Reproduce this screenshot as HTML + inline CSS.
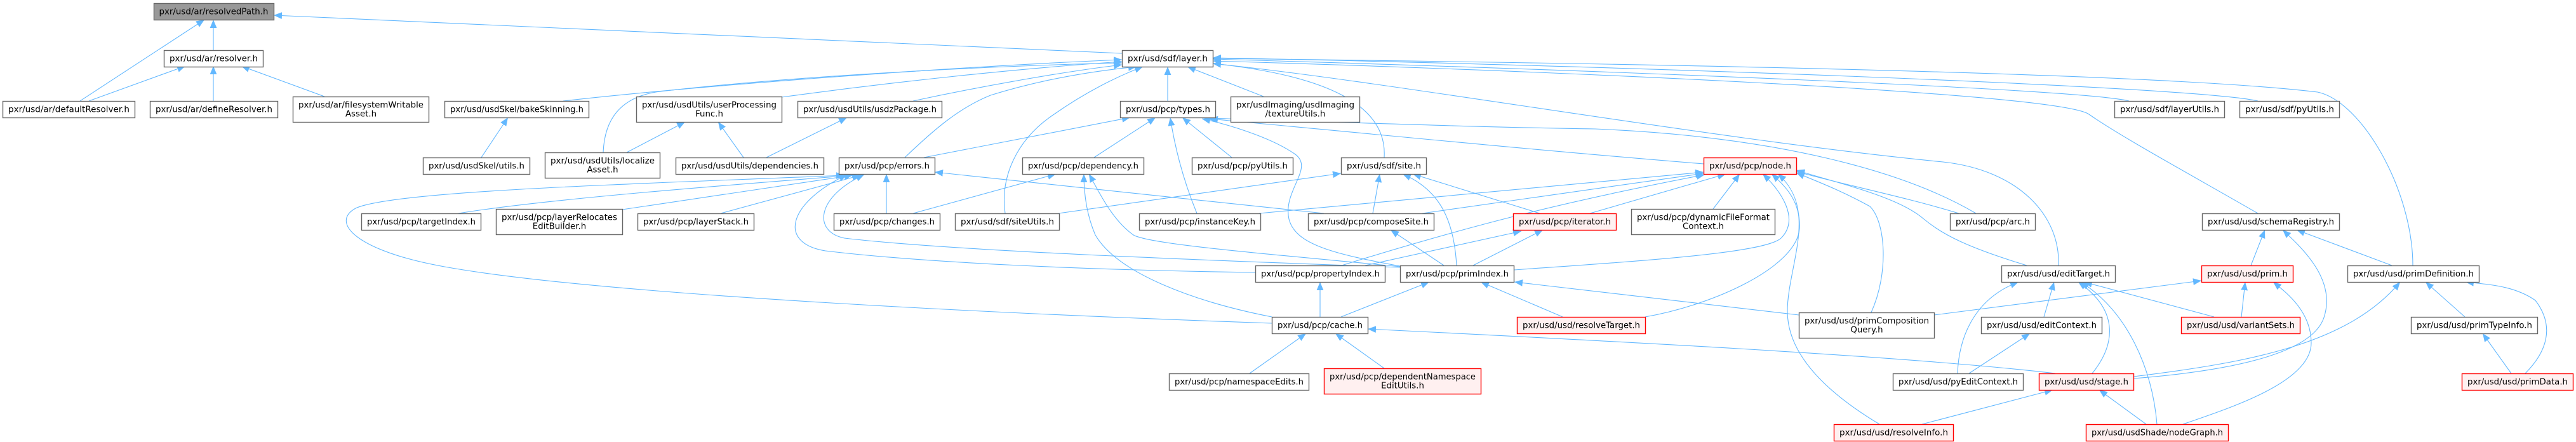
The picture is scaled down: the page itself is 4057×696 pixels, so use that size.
<!DOCTYPE html>
<html>
<head>
<meta charset="utf-8">
<style>
html,body{margin:0;padding:0;background:#fff;}
svg{display:block;}
.e{fill:none;stroke:#63b8ff;stroke-width:1.1;marker-end:url(#a);}
.n{fill:#fff;stroke:#666;stroke-width:1.4;}
.r{fill:#fff0f0;stroke:#f00;stroke-width:1.4;}
.g{fill:#999;stroke:#666;stroke-width:1.4;}
text{font-family:"DejaVu Sans","Liberation Sans",sans-serif;font-size:13.33px;text-anchor:middle;fill:#000;}
</style>
</head>
<body>
<svg width="4057" height="696" viewBox="0 0 4057 696" xmlns="http://www.w3.org/2000/svg">
<defs>
<marker id="a" markerUnits="userSpaceOnUse" markerWidth="13" markerHeight="11" refX="12" refY="5" orient="auto" viewBox="0 0 12 10">
<path d="M0,0L12,5L0,10z" fill="#63b8ff"/>
</marker>
</defs>

<!-- edges -->
<g>
<path class="e" d="M336,79 L336,31"/>
<path class="e" d="M126,159 L322,31"/>
<path class="e" d="M1767,84 L431,24"/>
<path class="e" d="M140,159 L292,104"/>
<path class="e" d="M336,159 L336,104"/>
<path class="e" d="M511,152 L380,104"/>
<path class="e" d="M887,159 C1100,135 1500,105 1767,94"/>
<path class="e" d="M1231,153 C1400,130 1600,108 1767,97"/>
<path class="e" d="M950,240 C952,190 975,152 1040,144 C1250,120 1550,104 1767,99"/>
<path class="e" d="M1438,159 C1550,135 1680,112 1767,102"/>
<path class="e" d="M1425,248 C1470,205 1510,170 1560,150 C1640,125 1720,112 1790,105"/>
<path class="e" d="M1583,336 C1575,280 1600,220 1660,180 C1710,145 1760,120 1800,105"/>
<path class="e" d="M1839,159 L1839,105"/>
<path class="e" d="M1990,152 L1870,105"/>
<path class="e" d="M2180,248 C2185,170 2100,120 1910,100"/>
<path class="e" d="M3353,159 C3280,140 2500,110 1910,93"/>
<path class="e" d="M3556,159 C3450,135 2500,102 1910,91"/>
<path class="e" d="M3556,336 C3450,275 3340,215 3290,180 C3240,145 2400,110 1910,96"/>
<path class="e" d="M3800,418 C3800,300 3720,160 3650,145 C3400,115 2600,100 1910,92"/>
<path class="e" d="M3242,418 C3245,340 3180,268 3060,255 C2700,220 2200,130 1910,100"/>

<path class="e" d="M1455,248 L1780,185"/>
<path class="e" d="M1723,248 L1820,185"/>
<path class="e" d="M1885,336 C1862,280 1850,230 1843,185"/>
<path class="e" d="M1940,248 L1862,185"/>
<path class="e" d="M3112,336 C3000,270 2800,215 2512,203 C2300,200 2050,190 1900,186"/>
<path class="e" d="M2683,258 C2400,235 2100,205 1905,187"/>
<path class="e" d="M2210,420 C2100,400 2040,385 2030,345 C2020,300 2070,265 2040,243 C2000,215 1930,195 1893,187"/>

<path class="e" d="M722,336 C850,315 1100,295 1343,276"/>
<path class="e" d="M980,330 L1343,276"/>
<path class="e" d="M1135,336 L1355,276"/>
<path class="e" d="M1396,336 L1396,274"/>
<path class="e" d="M2085,336 L1472,271"/>
<path class="e" d="M2003,509 C1600,495 950,465 700,420 C560,395 520,350 560,328 C620,300 1000,290 1330,276"/>
<path class="e" d="M2206,421 C1900,410 1500,395 1330,375 C1280,365 1285,310 1361,275"/>
<path class="e" d="M1977,429 C1700,425 1450,413 1300,395 C1225,383 1240,320 1334,275"/>

<path class="e" d="M1438,336 L1663,274"/>
<path class="e" d="M2003,499 C1880,475 1760,430 1725,370 C1710,335 1707,300 1707,274"/>
<path class="e" d="M2206,420 C2000,400 1810,385 1785,370 C1750,345 1730,300 1715,274"/>

<path class="e" d="M1667,336 L2112,273"/>
<path class="e" d="M2162,336 L2173,274"/>
<path class="e" d="M2294,418 C2290,350 2270,300 2209,274"/>
<path class="e" d="M2425,336 L2225,274"/>

<path class="e" d="M1983,336 L2683,271"/>
<path class="e" d="M2240,336 L2683,273"/>
<path class="e" d="M2113,418 C2300,360 2450,320 2685,275"/>
<path class="e" d="M2384,425 C2600,410 2780,398 2805,375 C2835,345 2805,300 2776,274"/>
<path class="e" d="M2504,336 L2718,274"/>
<path class="e" d="M2698,329 L2740,274"/>
<path class="e" d="M2591,499 C2700,480 2830,420 2834,360 C2836,320 2815,295 2790,274"/>
<path class="e" d="M2960,668 C2880,620 2815,560 2815,490 C2815,420 2865,330 2800,274"/>
<path class="e" d="M2947,492 C2975,430 2970,350 2945,325 C2900,300 2860,285 2829,272"/>
<path class="e" d="M3085,336 C3000,310 2900,290 2829,270"/>
<path class="e" d="M3192,418 C3100,390 3060,370 3030,345 C2990,310 2900,290 2829,268"/>

<path class="e" d="M2320,418 L2430,362"/>
<path class="e" d="M2150,418 L2396,364"/>
<path class="e" d="M2274,418 L2190,362"/>
<path class="e" d="M2079,499 L2079,444"/>
<path class="e" d="M2112,499 L2251,444"/>
<path class="e" d="M2461,499 L2332,444"/>
<path class="e" d="M2833,496 L2385,444"/>

<path class="e" d="M1968,588 L2057,525"/>
<path class="e" d="M2180,580 L2103,525"/>
<path class="e" d="M3237,588 C3000,560 2500,535 2154,518"/>

<path class="e" d="M3083,588 C3085,530 3110,470 3179,444"/>
<path class="e" d="M3219,499 L3235,444"/>
<path class="e" d="M3295,588 C3330,545 3340,490 3273,444"/>
<path class="e" d="M3397,668 C3390,580 3350,490 3277,444"/>
<path class="e" d="M3487,499 L3282,444"/>

<path class="e" d="M3046,496 L3467,442"/>
<path class="e" d="M3530,499 L3536,444"/>
<path class="e" d="M3438,668 C3520,640 3640,600 3640,540 C3640,490 3600,460 3580,444"/>
<path class="e" d="M3101,588 L3197,525"/>

<path class="e" d="M3545,418 L3567,362"/>
<path class="e" d="M3767,418 L3617,362"/>
<path class="e" d="M3360,596 C3500,585 3640,560 3660,500 C3680,440 3625,390 3595,362"/>

<path class="e" d="M3360,593 C3550,570 3700,540 3780,444"/>
<path class="e" d="M3882,499 L3820,444"/>
<path class="e" d="M3977,588 C4010,555 4025,515 3993,473 C3960,450 3920,448 3883,444"/>
<path class="e" d="M3955,588 L3910,525"/>

<path class="e" d="M3027,668 L3233,614"/>
<path class="e" d="M3380,668 L3306,614"/>

<path class="e" d="M758,248 L800,185"/>
<path class="e" d="M987,240 L1079,192"/>
<path class="e" d="M1171,248 L1131,192"/>
<path class="e" d="M1207,248 L1334,185"/>
</g>

<!-- nodes -->
<g>
<rect class="g" x="242.5" y="5.5" width="189" height="26"/>
<text x="336.5" y="22.5" textLength="172" lengthAdjust="spacingAndGlyphs">pxr/usd/ar/resolvedPath.h</text>

<rect class="n" x="258.5" y="79.5" width="156" height="26"/>
<text x="336.5" y="96.5" textLength="139" lengthAdjust="spacingAndGlyphs">pxr/usd/ar/resolver.h</text>

<rect class="n" x="1767.5" y="79.5" width="143" height="26"/>
<text x="1839" y="96.5" textLength="126" lengthAdjust="spacingAndGlyphs">pxr/usd/sdf/layer.h</text>

<!-- row 2 -->
<rect class="n" x="4.5" y="159.5" width="208" height="26"/>
<text x="108.5" y="176.5" textLength="191" lengthAdjust="spacingAndGlyphs">pxr/usd/ar/defaultResolver.h</text>

<rect class="n" x="236.5" y="159.5" width="201" height="26"/>
<text x="337" y="176.5" textLength="184" lengthAdjust="spacingAndGlyphs">pxr/usd/ar/defineResolver.h</text>

<rect class="n" x="461.5" y="152.5" width="214" height="40"/>
<text x="568.5" y="169.5" textLength="197" lengthAdjust="spacingAndGlyphs">pxr/usd/ar/filesystemWritable</text>
<text x="568.5" y="183.5">Asset.h</text>

<rect class="n" x="700.5" y="159.5" width="227" height="26"/>
<text x="814" y="176.5" textLength="210" lengthAdjust="spacingAndGlyphs">pxr/usd/usdSkel/bakeSkinning.h</text>

<rect class="n" x="1002.5" y="152.5" width="229" height="40"/>
<text x="1117" y="169.5" textLength="212" lengthAdjust="spacingAndGlyphs">pxr/usd/usdUtils/userProcessing</text>
<text x="1117" y="183.5">Func.h</text>

<rect class="n" x="1256.5" y="159.5" width="227" height="26"/>
<text x="1370" y="176.5" textLength="210" lengthAdjust="spacingAndGlyphs">pxr/usd/usdUtils/usdzPackage.h</text>

<rect class="n" x="1764.5" y="159.5" width="150" height="26"/>
<text x="1839.5" y="176.5" textLength="133" lengthAdjust="spacingAndGlyphs">pxr/usd/pcp/types.h</text>

<rect class="n" x="1938.5" y="152.5" width="203" height="40"/>
<text x="2040" y="169.5" textLength="186" lengthAdjust="spacingAndGlyphs">pxr/usdImaging/usdImaging</text>
<text x="2040" y="183.5">/textureUtils.h</text>

<rect class="n" x="3330.5" y="159.5" width="173" height="26"/>
<text x="3417" y="176.5" textLength="156" lengthAdjust="spacingAndGlyphs">pxr/usd/sdf/layerUtils.h</text>

<rect class="n" x="3527.5" y="159.5" width="157" height="26"/>
<text x="3606" y="176.5" textLength="140" lengthAdjust="spacingAndGlyphs">pxr/usd/sdf/pyUtils.h</text>

<!-- row 3 -->
<rect class="n" x="666.5" y="248.5" width="168" height="26"/>
<text x="750.5" y="265.5" textLength="151" lengthAdjust="spacingAndGlyphs">pxr/usd/usdSkel/utils.h</text>

<rect class="n" x="858.5" y="240.5" width="181" height="40"/>
<text x="949" y="257.5" textLength="164" lengthAdjust="spacingAndGlyphs">pxr/usd/usdUtils/localize</text>
<text x="949" y="271.5">Asset.h</text>

<rect class="n" x="1064.5" y="248.5" width="233" height="26"/>
<text x="1181" y="265.5" textLength="216" lengthAdjust="spacingAndGlyphs">pxr/usd/usdUtils/dependencies.h</text>

<rect class="n" x="1321.5" y="248.5" width="151" height="26"/>
<text x="1397" y="265.5" textLength="134" lengthAdjust="spacingAndGlyphs">pxr/usd/pcp/errors.h</text>

<rect class="n" x="1610.5" y="248.5" width="191" height="26"/>
<text x="1706" y="265.5" textLength="174" lengthAdjust="spacingAndGlyphs">pxr/usd/pcp/dependency.h</text>

<rect class="n" x="1877.5" y="248.5" width="159" height="26"/>
<text x="1957" y="265.5" textLength="142" lengthAdjust="spacingAndGlyphs">pxr/usd/pcp/pyUtils.h</text>

<rect class="n" x="2112.5" y="248.5" width="134" height="26"/>
<text x="2179.5" y="265.5" textLength="117" lengthAdjust="spacingAndGlyphs">pxr/usd/sdf/site.h</text>

<rect class="r" x="2683.5" y="248.5" width="146" height="26"/>
<text x="2756.5" y="265.5" textLength="129" lengthAdjust="spacingAndGlyphs">pxr/usd/pcp/node.h</text>

<!-- row 4 -->
<rect class="n" x="569.5" y="336.5" width="188" height="26"/>
<text x="663.5" y="353.5" textLength="171" lengthAdjust="spacingAndGlyphs">pxr/usd/pcp/targetIndex.h</text>

<rect class="n" x="781.5" y="329.5" width="199" height="40"/>
<text x="881" y="346.5" textLength="182" lengthAdjust="spacingAndGlyphs">pxr/usd/pcp/layerRelocates</text>
<text x="881" y="360.5">EditBuilder.h</text>

<rect class="n" x="1004.5" y="336.5" width="183" height="26"/>
<text x="1096" y="353.5" textLength="166" lengthAdjust="spacingAndGlyphs">pxr/usd/pcp/layerStack.h</text>

<rect class="n" x="1313.5" y="336.5" width="167" height="26"/>
<text x="1397" y="353.5" textLength="150" lengthAdjust="spacingAndGlyphs">pxr/usd/pcp/changes.h</text>

<rect class="n" x="1504.5" y="336.5" width="164" height="26"/>
<text x="1586.5" y="353.5" textLength="147" lengthAdjust="spacingAndGlyphs">pxr/usd/sdf/siteUtils.h</text>

<rect class="n" x="1794.5" y="336.5" width="191" height="26"/>
<text x="1890" y="353.5" textLength="174" lengthAdjust="spacingAndGlyphs">pxr/usd/pcp/instanceKey.h</text>

<rect class="n" x="2060.5" y="336.5" width="198" height="26"/>
<text x="2159.5" y="353.5" textLength="181" lengthAdjust="spacingAndGlyphs">pxr/usd/pcp/composeSite.h</text>

<rect class="r" x="2383.5" y="336.5" width="162" height="26"/>
<text x="2464.5" y="353.5" textLength="145" lengthAdjust="spacingAndGlyphs">pxr/usd/pcp/iterator.h</text>

<rect class="n" x="2569.5" y="329.5" width="226" height="40"/>
<text x="2682.5" y="346.5" textLength="209" lengthAdjust="spacingAndGlyphs">pxr/usd/pcp/dynamicFileFormat</text>
<text x="2682.5" y="360.5">Context.h</text>

<rect class="n" x="3071.5" y="336.5" width="134" height="26"/>
<text x="3138.5" y="353.5" textLength="117" lengthAdjust="spacingAndGlyphs">pxr/usd/pcp/arc.h</text>

<rect class="n" x="3468.5" y="336.5" width="216" height="26"/>
<text x="3576.5" y="353.5" textLength="199" lengthAdjust="spacingAndGlyphs">pxr/usd/usd/schemaRegistry.h</text>

<!-- row 5 -->
<rect class="n" x="1977.5" y="418.5" width="204" height="26"/>
<text x="2079.5" y="435.5" textLength="187" lengthAdjust="spacingAndGlyphs">pxr/usd/pcp/propertyIndex.h</text>

<rect class="n" x="2205.5" y="418.5" width="179" height="26"/>
<text x="2295" y="435.5" textLength="162" lengthAdjust="spacingAndGlyphs">pxr/usd/pcp/primIndex.h</text>

<rect class="n" x="3152.5" y="418.5" width="179" height="26"/>
<text x="3242" y="435.5" textLength="162" lengthAdjust="spacingAndGlyphs">pxr/usd/usd/editTarget.h</text>

<rect class="r" x="3467.5" y="418.5" width="144" height="26"/>
<text x="3539.5" y="435.5" textLength="127" lengthAdjust="spacingAndGlyphs">pxr/usd/usd/prim.h</text>

<rect class="n" x="3697.5" y="418.5" width="207" height="26"/>
<text x="3801" y="435.5" textLength="190" lengthAdjust="spacingAndGlyphs">pxr/usd/usd/primDefinition.h</text>

<!-- row 6 -->
<rect class="n" x="2003.5" y="499.5" width="151" height="26"/>
<text x="2079" y="516.5" textLength="134" lengthAdjust="spacingAndGlyphs">pxr/usd/pcp/cache.h</text>

<rect class="r" x="2389.5" y="499.5" width="202" height="26"/>
<text x="2490.5" y="516.5" textLength="185" lengthAdjust="spacingAndGlyphs">pxr/usd/usd/resolveTarget.h</text>

<rect class="n" x="2833.5" y="492.5" width="213" height="40"/>
<text x="2940" y="509.5" textLength="196" lengthAdjust="spacingAndGlyphs">pxr/usd/usd/primComposition</text>
<text x="2940" y="523.5">Query.h</text>

<rect class="n" x="3120.5" y="499.5" width="190" height="26"/>
<text x="3215.5" y="516.5" textLength="173" lengthAdjust="spacingAndGlyphs">pxr/usd/usd/editContext.h</text>

<rect class="r" x="3435.5" y="499.5" width="187" height="26"/>
<text x="3529" y="516.5" textLength="170" lengthAdjust="spacingAndGlyphs">pxr/usd/usd/variantSets.h</text>

<rect class="n" x="3797.5" y="499.5" width="199" height="26"/>
<text x="3897" y="516.5" textLength="182" lengthAdjust="spacingAndGlyphs">pxr/usd/usd/primTypeInfo.h</text>

<!-- row 7 -->
<rect class="n" x="1841.5" y="588.5" width="220" height="26"/>
<text x="1951.5" y="605.5" textLength="203" lengthAdjust="spacingAndGlyphs">pxr/usd/pcp/namespaceEdits.h</text>

<rect class="r" x="2085.5" y="580.5" width="247" height="40"/>
<text x="2209" y="597.5" textLength="230" lengthAdjust="spacingAndGlyphs">pxr/usd/pcp/dependentNamespace</text>
<text x="2209" y="611.5">EditUtils.h</text>

<rect class="n" x="2981.5" y="588.5" width="205" height="26"/>
<text x="3084" y="605.5" textLength="188" lengthAdjust="spacingAndGlyphs">pxr/usd/usd/pyEditContext.h</text>

<rect class="r" x="3211.5" y="588.5" width="149" height="26"/>
<text x="3286" y="605.5" textLength="132" lengthAdjust="spacingAndGlyphs">pxr/usd/usd/stage.h</text>

<rect class="r" x="3877.5" y="588.5" width="175" height="26"/>
<text x="3965" y="605.5" textLength="158" lengthAdjust="spacingAndGlyphs">pxr/usd/usd/primData.h</text>

<!-- row 8 -->
<rect class="r" x="2888.5" y="668.5" width="188" height="26"/>
<text x="2982.5" y="685.5" textLength="171" lengthAdjust="spacingAndGlyphs">pxr/usd/usd/resolveInfo.h</text>

<rect class="r" x="3285.5" y="668.5" width="224" height="26"/>
<text x="3397.5" y="685.5" textLength="207" lengthAdjust="spacingAndGlyphs">pxr/usd/usdShade/nodeGraph.h</text>
</g>
</svg>
</body>
</html>
